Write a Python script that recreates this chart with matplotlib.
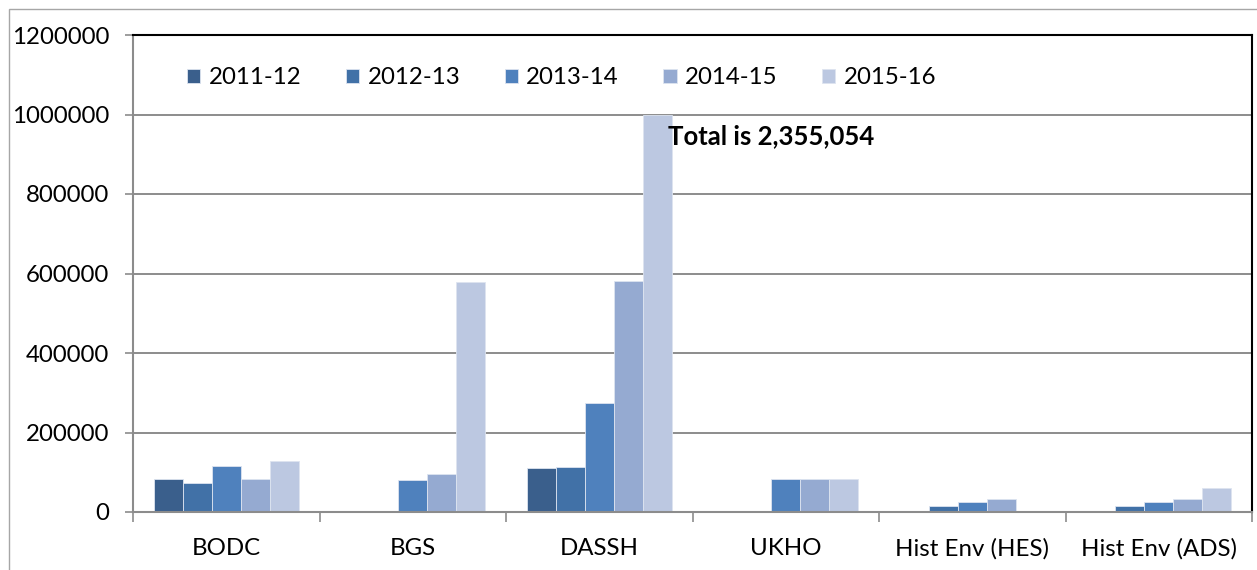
import matplotlib.pyplot as plt
import matplotlib.patches as mpatches
import numpy as np

plt.rcParams['font.family'] = ['Lato', 'DejaVu Sans']

# data
centres = ['BODC', 'BGS', 'DASSH', 'UKHO', 'Hist Env (HES)', 'Hist Env (ADS)']
years = ['2011-12', '2012-13', '2013-14', '2014-15', '2015-16']
v_2011 = [83000, 0, 110000, 0, 0, 0]
v_2012 = [72000, 0, 113000, 0, 16000, 16000]
v_2013 = [115000, 80000, 273000, 83000, 26000, 26000]
v_2014 = [84000, 95000, 580000, 83000, 32000, 32000]
v_2015 = [128000, 578000, 1000000, 83000, 0, 60000]
note_text = 'Total is 2,355,054'

series = [v_2011, v_2012, v_2013, v_2014, v_2015]
colours = ['#3A5F8C', '#4171A7', '#4F81BD', '#95AAD1', '#BCC8E1']

fig = plt.figure(figsize=(12.57, 5.7), dpi=100)
ax = fig.add_axes([133 / 1257, 58 / 570, 1119 / 1257, 477 / 570])

# outer chart border
fig.patches.append(mpatches.Rectangle((9 / 1257, -0.1), 1.2, 1 - 9 / 570 + 0.1,
                                      transform=fig.transFigure, fill=False,
                                      edgecolor='#A6A6A6', linewidth=1.0))

x = np.arange(len(centres))
w = 0.155
for i, (vals, c, lab) in enumerate(zip(series, colours, years)):
    ax.bar(x + (i - 2) * w, vals, width=w, color=c, edgecolor='#DDE4F0',
           linewidth=0.6, label=lab, zorder=2)

ax.set_xlim(-0.5, len(centres) - 0.5)
ax.set_ylim(0, 1200000)
ax.set_yticks(np.arange(0, 1200001, 200000))
ax.set_yticklabels([str(v) for v in range(0, 1200001, 200000)])
ax.yaxis.grid(True, color='#8C8C8C', linewidth=1.4)
ax.set_axisbelow(True)

fs = 17.3
ax.set_xticks(x)
ax.set_xticklabels(centres)
ax.set_xticks(np.arange(-0.5, len(centres)), minor=True)
ax.tick_params(axis='x', which='major', length=0, pad=19, labelsize=fs)
ax.tick_params(axis='x', which='minor', length=7, width=1.2, color='#8C8C8C')
ax.tick_params(axis='y', length=6, width=1.2, color='#8C8C8C', pad=11, labelsize=fs)

for s in ['left', 'bottom']:
    ax.spines[s].set_color('#8C8C8C')
    ax.spines[s].set_linewidth(1.5)
for s in ['top', 'right']:
    ax.spines[s].set_color('black')
    ax.spines[s].set_linewidth(1.5)

ax.text(2.37, 945000, note_text, fontsize=18.5, fontweight='bold',
        ha='left', va='center', zorder=3)

ax.legend(loc='center left', bbox_to_anchor=((187 - 133) / 1119, (512 - 78) / 477),
          ncol=5, frameon=False, fontsize=fs, handlelength=0.55, handleheight=0.55,
          handletextpad=0.35, columnspacing=1.85, borderpad=0, borderaxespad=0)

plt.savefig('out.png', dpi=100)
